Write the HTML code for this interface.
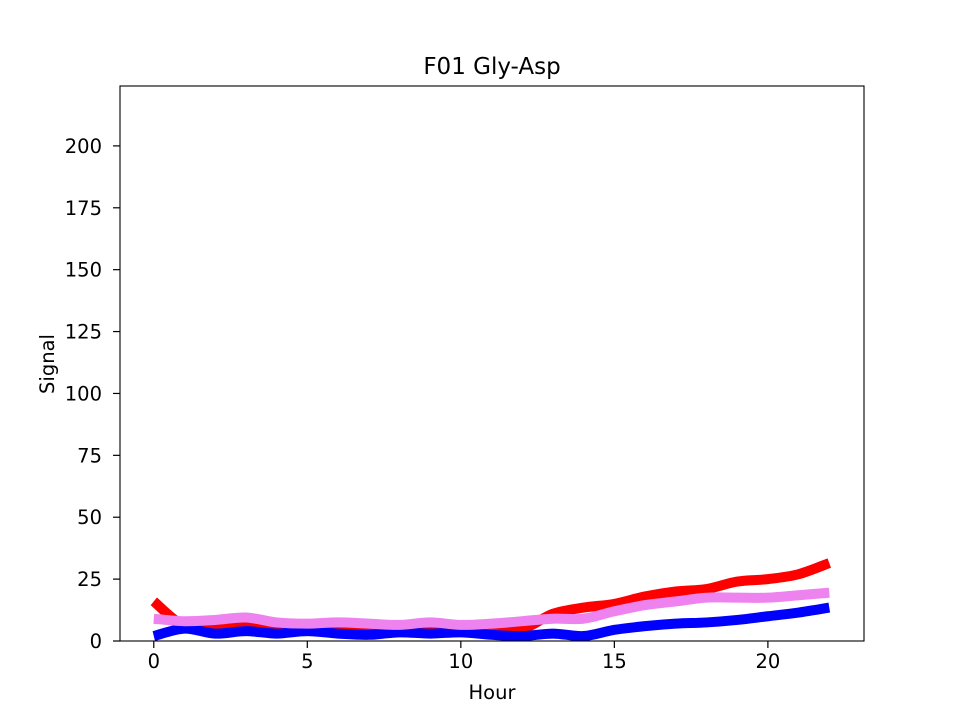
<!DOCTYPE html>
<html><head><meta charset="utf-8"><style>
body{margin:0;background:#fff;}
svg text{font-family:"DejaVu Sans","Liberation Sans",sans-serif;fill:#000;}
</style></head><body>
<svg id="chart" width="960" height="720">
<rect width="960" height="720" fill="#fff"/>
<text x="492" y="74" font-size="23" text-anchor="middle">F01 Gly-Asp</text>
<g id="series"></g>
<rect x="120" y="86" width="744" height="555" fill="none" stroke="#000" stroke-width="1.1"/>
<g id="axes"></g>
<text x="492" y="699" font-size="19.5" text-anchor="middle">Hour</text>
<text transform="translate(54,364) rotate(-90)" font-size="19.5" text-anchor="middle">Signal</text>
</svg>
<script>
const hours=[0,1,2,3,4,5,6,7,8,9,10,11,12,13,14,15,16,17,18,19,20,21,22];
const redVals=[16,6,5.5,6,5,4.5,4.5,4,4,4,5,6.5,5,11,13.5,15,18,20,21,24,25,27,31.5];
const blueVals=[2,5,3,4,3,4,3,2.5,3.5,3,3.5,2.5,2,3,2,4.5,6,7,7.5,8.5,10,11.5,13.5];
const violetVals=[9,8,8.5,9.5,7.5,7,7.5,7,6.5,7.5,6.5,7,8,9,9,12,14.5,16,17.5,17.5,17.5,18.5,19.5];
const xTicks=[0,5,10,15,20];
const yTicks=[0,25,50,75,100,125,150,175,200];
const NS="http://www.w3.org/2000/svg";
const X0=120,X1=864,Y0=641,Y1=86,xmin=-1.1,xmax=23.13,ymin=0,ymax=224.2;
const sx=v=>X0+(v-xmin)/(xmax-xmin)*(X1-X0);
const sy=v=>Y0-(v-ymin)/(ymax-ymin)*(Y0-Y1);
function smoothPath(xs,ys){
  const p=xs.map((x,i)=>[sx(x),sy(ys[i])]);
  let d="M"+p[0][0]+","+p[0][1];
  for(let i=0;i<p.length-1;i++){
    const p0=p[Math.max(i-1,0)],p1=p[i],p2=p[i+1],p3=p[Math.min(i+2,p.length-1)];
    const c1=[p1[0]+(p2[0]-p0[0])/6,p1[1]+(p2[1]-p0[1])/6];
    const c2=[p2[0]-(p3[0]-p1[0])/6,p2[1]-(p3[1]-p1[1])/6];
    d+=" C"+c1+" "+c2+" "+p2;
  }
  return d;
}
const sg=document.getElementById("series");
[["red",redVals,"series-red"],["blue",blueVals,"series-blue"],["violet",violetVals,"series-violet"]].forEach(s=>{
  const el=document.createElementNS(NS,"path");
  el.setAttribute("d",smoothPath(hours,s[1]));
  el.setAttribute("fill","none");el.setAttribute("stroke",s[0]);el.setAttribute("stroke-width","10");
  
  
  sg.appendChild(el);
});
const ax=document.getElementById("axes");
xTicks.forEach(t=>{
  const l=document.createElementNS(NS,"line");
  l.setAttribute("x1",sx(t));l.setAttribute("x2",sx(t));l.setAttribute("y1",Y0);l.setAttribute("y2",Y0+7);l.setAttribute("stroke","#000");l.setAttribute("stroke-width","1.2");
  
  
  ax.appendChild(l);
  const tx=document.createElementNS(NS,"text");
  tx.setAttribute("x",sx(t));tx.setAttribute("y",Y0+27);tx.setAttribute("font-size","19.5");tx.setAttribute("text-anchor","middle");
  tx.textContent=t;
  
  
  ax.appendChild(tx);
});
yTicks.forEach(t=>{
  const l=document.createElementNS(NS,"line");
  l.setAttribute("x1",X0-7);l.setAttribute("x2",X0);l.setAttribute("y1",sy(t));l.setAttribute("y2",sy(t));l.setAttribute("stroke","#000");l.setAttribute("stroke-width","1.2");
  
  
  ax.appendChild(l);
  const tx=document.createElementNS(NS,"text");
  tx.setAttribute("x",X0-18);tx.setAttribute("y",sy(t)+7);tx.setAttribute("font-size","19.5");tx.setAttribute("text-anchor","end");
  tx.textContent=t;
  
  
  ax.appendChild(tx);
});
</script>
</body></html>
